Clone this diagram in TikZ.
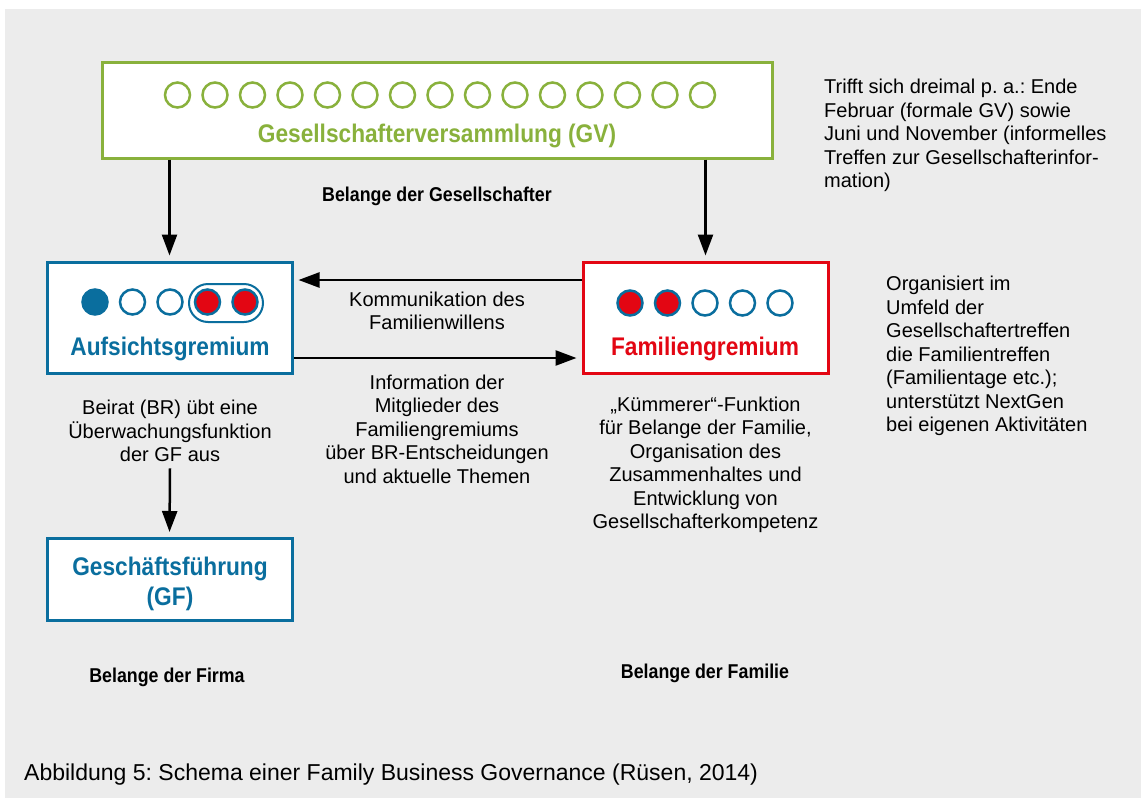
\documentclass[tikz,border=0pt]{standalone}
\usepackage{fontspec}
\setmainfont{Liberation Sans}[BoldFeatures={FakeStretch=0.89}]
\usetikzlibrary{arrows.meta}

\definecolor{gvgreen}{RGB}{137,177,60}
\definecolor{brblue}{RGB}{10,110,158}
\definecolor{famred}{RGB}{227,6,19}
\definecolor{panelgrey}{RGB}{236,236,236}

\tikzset{
  gremium/.style={draw, line width=3pt, fill=white, minimum width=245pt, minimum height=111pt},
  seat/.style={circle, draw=brblue, line width=2.5pt, fill=white, minimum size=25pt, inner sep=0pt},
  boxtitle/.style={font=\fontsize{25.5}{29.5}\selectfont\bfseries, align=center},
  remark/.style={font=\fontsize{20}{23.5}\selectfont, align=center},
  concern/.style={font=\fontsize{20}{23.5}\selectfont\bfseries},
  flow/.style={->, line width=2.5pt, shorten >=5pt},
}

\begin{document}
\frenchspacing
\begin{tikzpicture}[x=1pt, y=-1pt, >={Triangle[length=21pt,width=15pt]}]
\useasboundingbox (0,0) rectangle (1141,798);
\fill[white] (0,0) rectangle (1141,798);
\fill[panelgrey] (5,9) rectangle (1141,798);

% Gesellschafterversammlung
\node (gv) [draw=gvgreen, line width=3pt, fill=white, minimum width=670pt, minimum height=96pt] at (437,110) {};
\foreach \i in {0,...,14}
  \node (gvseat\i) [seat, draw=gvgreen] at (177.5+37.5*\i,95) {};
\node (gvtitle) [boxtitle, text=gvgreen] at (437,136) {Gesellschafterversammlung (GV)};

% Aufsichtsgremium
\node (ag) [gremium, draw=brblue] at (169.5,317.5) {};
\node (agseat1) [seat, fill=brblue] at (95,302) {};
\node (agseat2) [seat] at (132.5,302) {};
\node (agseat3) [seat] at (170,302) {};
\node (agseat4) [seat, fill=famred] at (207.5,302) {};
\node (agseat5) [seat, fill=famred] at (245,302) {};
\node (agpill) [draw=brblue, line width=2pt, rounded corners=19pt, minimum width=74pt, minimum height=38pt] at (226,303) {};
\node (agtitle) [boxtitle, text=brblue] at (170,349) {Aufsichtsgremium};

% Familiengremium
\node (fg) [gremium, draw=famred] at (705.5,317.5) {};
\foreach \x/\c [count=\i] in {630/famred, 667.5/famred, 705/white, 742.5/white, 780/white}
  \node (fgseat\i) [seat, fill=\c] at (\x,303) {};
\node (fgtitle) [boxtitle, text=famred] at (705,349) {Familiengremium};

% Geschaeftsfuehrung
\node (gf) [gremium, draw=brblue, minimum height=82pt] at (169.5,579.5) {};
\node (gftitle) [boxtitle, text=brblue] at (170,584) {Geschäftsführung\\(GF)};

% texts
\node (gvconcern) [concern] at (437,196) {Belange der Gesellschafter};
\node (komm) [remark] at (437,311) {Kommunikation des\\Familienwillens};
\node (info) [remark] at (437,429) {Information der\\Mitglieder des\\Familiengremiums\\über BR-Entscheidungen\\und aktuelle Themen};
\node (beirat) [remark] at (170,431) {Beirat (BR) übt eine\\Überwachungsfunktion\\der GF aus};
\node (kuemmerer) [remark] at (705.5,465) {„Kümmerer“-Funktion\\für Belange der Familie,\\Organisation des\\Zusammenhaltes und\\Entwicklung von\\Gesellschafterkompetenz};
\node (gvinfo) [remark, align=left, anchor=north west, inner sep=0pt] at (824,79) {Trifft sich dreimal p. a.: Ende\\Februar (formale GV) sowie\\Juni und November (informelles\\Treffen zur Gesellschafterinfor-\\mation)};
\node (fginfo) [remark, align=left, anchor=north west, inner sep=0pt] at (886,276) {Organisiert im\\Umfeld der\\Gesellschaftertreffen\\die Familientreffen\\(Familientage etc.);\\unterstützt NextGen\\bei eigenen Aktivitäten};
\node (firma) [concern] at (167,677) {Belange der Firma};
\node (familie) [concern] at (705,673) {Belange der Familie};
\node (caption) [anchor=west, inner sep=0pt, font=\fontsize{23}{27}\selectfont] at (24,775) {Abbildung 5: Schema einer Family Business Governance (Rüsen, 2014)};

% arrows
\draw[flow] (ag |- gv.south) -- (ag.north);
\draw[flow] (fg |- gv.south) -- (fg.north);
\draw[flow] ([yshift=37.5pt]fg.west) -- ([yshift=37.5pt]ag.east);
\draw[flow] ([yshift=-40.5pt]ag.east) -- ([yshift=-40.5pt]fg.west);
\draw[flow] ([yshift=-3pt]beirat.south) -- (gf.north);
\end{tikzpicture}
\end{document}
